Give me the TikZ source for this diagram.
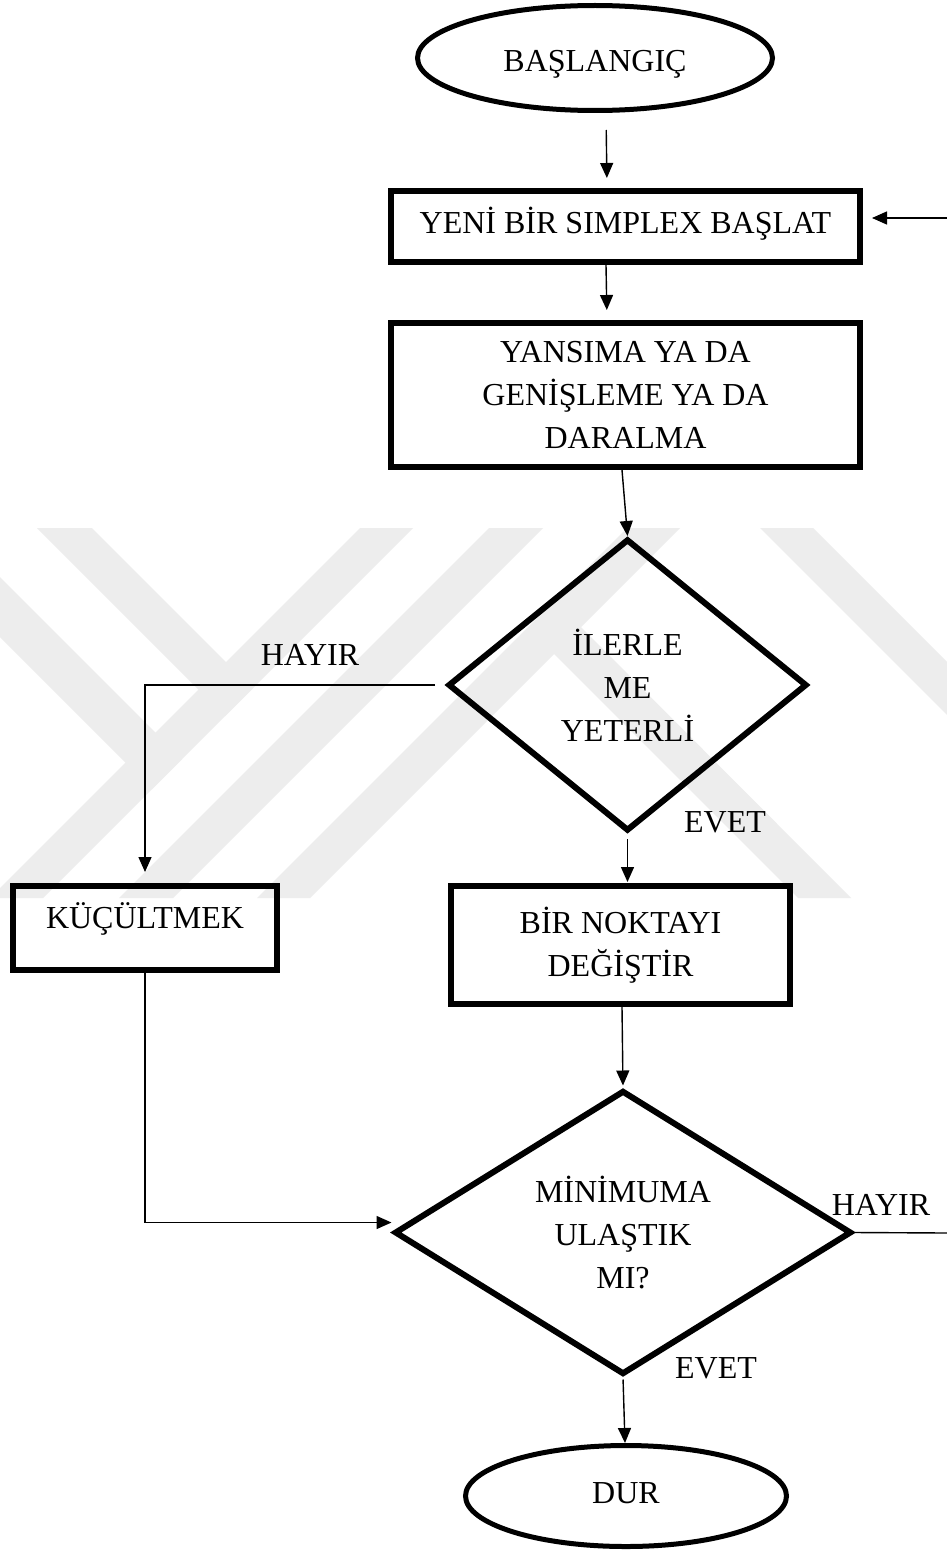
\documentclass[tikz,border=0pt]{standalone}
\usepackage{fontspec}
\setmainfont{Liberation Serif}
\usetikzlibrary{shapes.geometric,arrows.meta,calc}
\definecolor{wmgray}{RGB}{237,237,237}
\tikzset{
  txt/.style={font=\fontsize{32}{43}\selectfont, inner sep=0pt},
  procbox/.style={draw, rectangle, line width=6pt, txt, align=center},
  termbox/.style={draw, ellipse, line width=5pt, txt},
  decbox/.style={draw, diamond, aspect=1.6, line width=6pt, txt, align=center},
  conn/.style={line width=1.4pt},
  arr/.style={conn, -{Triangle[length=15pt,width=13pt]}},
  wm/.style={fill=wmgray, draw=none}
}
\begin{document}
\begin{tikzpicture}[x=1pt, y=-1pt]
\useasboundingbox (0,0) rectangle (947,1552);
\fill[white] (0,0) rectangle (947,1552);

% faint background emblem made of diagonal bands
\begin{scope}
  \clip (0,528) rectangle (947,898);
  \fill[wm] (37,528) -- (92,528) -- (252.5,688.5) -- (225,716) -- cycle;
  \fill[wm] (360,528) -- (413,528) -- (43,898) -- (-10,898) -- cycle;
  \fill[wm] (0,577) -- (182,759) -- (152,789) -- (0,637) -- cycle;
  \fill[wm] (489,528) -- (543,528) -- (173,898) -- (119,898) -- cycle;
  \fill[wm] (627,528) -- (680,528) -- (310,898) -- (257,898) -- cycle;
  \fill[wm] (760,528) -- (813,528) -- (1000,715) -- (1000,768) -- cycle;
  \fill[wm] (554,600) -- (851,898) -- (798,898) -- (530,630) -- cycle;
\end{scope}

% shapes
\node[termbox, minimum width=355pt, minimum height=105pt, text height=28pt, text depth=0pt]
  (start) at (595,58) {BAŞLANGIÇ};
\node[procbox, minimum width=469pt, minimum height=71pt, text height=21pt, text depth=8pt]
  (box1) at (625.5,226.5) {YENİ BİR SIMPLEX BAŞLAT};
\node[procbox, minimum width=469pt, minimum height=144pt]
  (box2) at (625.5,395) {YANSIMA YA DA\\GENİŞLEME YA DA\\DARALMA};
\node[decbox, minimum width=359pt, minimum height=292pt]
  (d1) at (627.5,685) {İLERLE\\ME\\YETERLİ};
\node[procbox, minimum width=264pt, minimum height=84pt, text height=20pt, text depth=20pt]
  (kuc) at (145,928) {KÜÇÜLTMEK};
\node[procbox, minimum width=339pt, minimum height=118pt]
  (box3) at (620.5,945) {BİR NOKTAYI\\DEĞİŞTİR};
\node[decbox, minimum width=457pt, minimum height=284pt]
  (d2) at (623,1232.5) {MİNİMUMA\\ULAŞTIK\\MI?};
\node[termbox, minimum width=321pt, minimum height=101pt, text height=14pt, text depth=0pt]
  (dur) at (626,1496) {DUR};

% branch labels
\node[txt, anchor=base] (no1) at (310,665) {HAYIR};
\node[txt, anchor=base] (yes1) at (725,832) {EVET};
\node[txt, anchor=base] (no2) at (881,1215) {HAYIR};
\node[txt, anchor=base] (yes2) at (716,1378) {EVET};

% loop-back ends at the right border
\coordinate (loopR) at (947,1233);
\coordinate (loopT) at (947,218);

% connectors
\draw[arr, shorten <=17pt, shorten >=10pt] ([xshift=11pt]start.south) -- ([xshift=-18.5pt]box1.north);
\draw[arr, shorten >=10pt] ([xshift=-19.5pt]box1.south) -- ([xshift=-18.5pt]box2.north);
\draw[arr] ([xshift=-3.5pt]box2.south) -- (d1.north);
\draw[arr, shorten <=10pt, shorten >=11pt] (d1.west) -| (kuc.north);
\draw[arr, shorten <=5pt, shorten >=1pt] (d1.south) -- (d1.south |- box3.north);
\draw[arr, shorten >=2pt] ([xshift=1.5pt]box3.south) -- (d2.north);
\draw[arr] (kuc.south) |- ([yshift=10pt]d2.west);
\draw[conn] (d2.east) -- (loopR);
\draw[arr, shorten >=9pt] (loopT) -- (loopT -| box1.east);
\draw[arr, shorten <=2pt] (d2.south) -- ([xshift=-1pt]dur.north);
\end{tikzpicture}
\end{document}
